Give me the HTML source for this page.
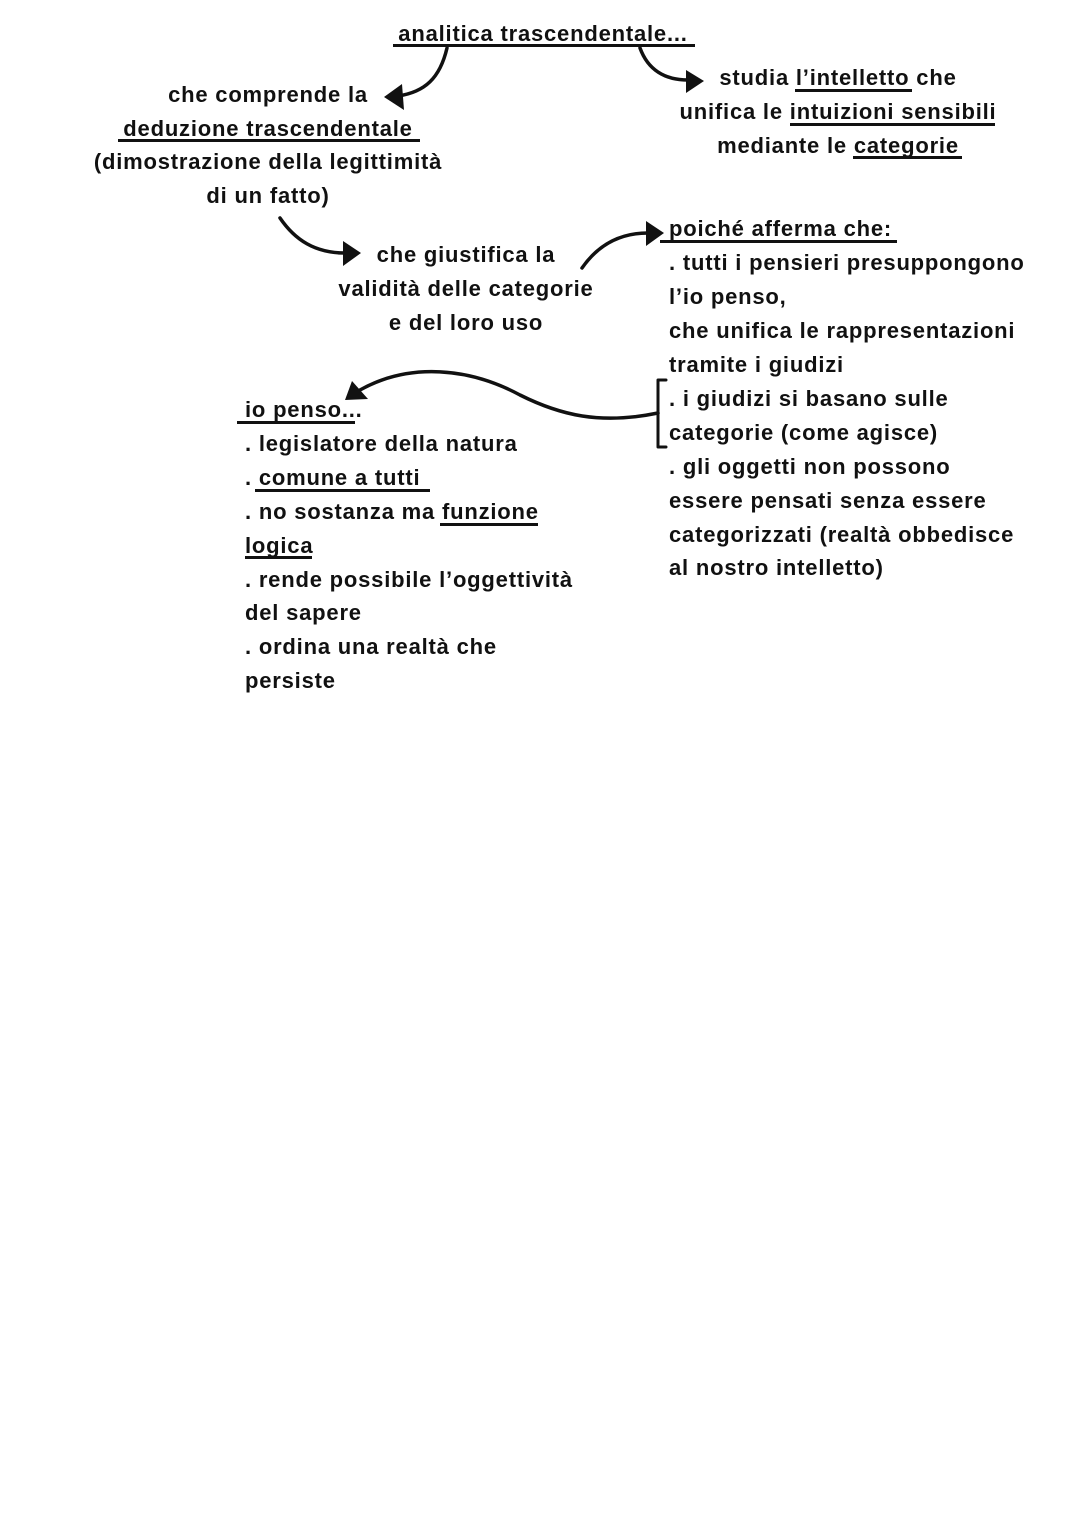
<!DOCTYPE html>
<html><head><meta charset="utf-8"><style>
html,body{margin:0;padding:0;background:#fff;}
body{width:1080px;height:1527px;position:relative;overflow:hidden;font-family:"Liberation Sans",sans-serif;font-weight:bold;font-size:22px;letter-spacing:0.8px;color:#111;}
.t{position:absolute;white-space:nowrap;line-height:26px;}
.c{transform:translateX(-50%);}
.u{position:absolute;height:3px;background:#111;}
svg{position:absolute;left:0;top:0;}
</style></head><body>
<div class="t c" style="left:543px;top:21px">analitica trascendentale...</div>
<div class="u" style="left:393px;top:44px;width:302px"></div>

<div class="t c" style="left:268px;top:82px">che comprende la</div>
<div class="t c" style="left:268px;top:116px">deduzione trascendentale</div>
<div class="u" style="left:118px;top:139px;width:302px"></div>
<div class="t c" style="left:268px;top:149px">(dimostrazione della legittimità</div>
<div class="t c" style="left:268px;top:183px">di un fatto)</div>

<div class="t c" style="left:838px;top:65px">studia l’intelletto che</div>
<div class="u" style="left:795px;top:89px;width:117px"></div>
<div class="t c" style="left:838px;top:99px">unifica le intuizioni sensibili</div>
<div class="u" style="left:790px;top:123px;width:205px"></div>
<div class="t c" style="left:838px;top:133px">mediante le categorie</div>
<div class="u" style="left:853px;top:156px;width:109px"></div>

<div class="t c" style="left:466px;top:242px">che giustifica la</div>
<div class="t c" style="left:466px;top:276px">validità delle categorie</div>
<div class="t c" style="left:466px;top:310px">e del loro uso</div>

<div class="t" style="left:669px;top:216px">poiché afferma che:</div>
<div class="u" style="left:660px;top:240px;width:237px"></div>
<div class="t" style="left:669px;top:250px">. tutti i pensieri presuppongono</div>
<div class="t" style="left:669px;top:284px">l’io penso,</div>
<div class="t" style="left:669px;top:318px">che unifica le rappresentazioni</div>
<div class="t" style="left:669px;top:352px">tramite i giudizi</div>
<div class="t" style="left:669px;top:386px">. i giudizi si basano sulle</div>
<div class="t" style="left:669px;top:420px">categorie (come agisce)</div>
<div class="t" style="left:669px;top:454px">. gli oggetti non possono</div>
<div class="t" style="left:669px;top:488px">essere pensati senza essere</div>
<div class="t" style="left:669px;top:522px">categorizzati (realtà obbedisce</div>
<div class="t" style="left:669px;top:555px">al nostro intelletto)</div>

<div class="t" style="left:245px;top:397px">io penso...</div>
<div class="u" style="left:237px;top:421px;width:118px"></div>
<div class="t" style="left:245px;top:431px">. legislatore della natura</div>
<div class="t" style="left:245px;top:465px">. comune a tutti</div>
<div class="u" style="left:255px;top:489px;width:175px"></div>
<div class="t" style="left:245px;top:499px">. no sostanza ma funzione</div>
<div class="u" style="left:440px;top:523px;width:98px"></div>
<div class="t" style="left:245px;top:533px">logica</div>
<div class="u" style="left:245px;top:556px;width:67px"></div>
<div class="t" style="left:245px;top:567px">. rende possibile l’oggettività</div>
<div class="t" style="left:245px;top:600px">del sapere</div>
<div class="t" style="left:245px;top:634px">. ordina una realtà che</div>
<div class="t" style="left:245px;top:668px">persiste</div>

<svg width="1080" height="1527" viewBox="0 0 1080 1527">
<g fill="none" stroke="#111" stroke-width="3.5" stroke-linecap="round">
<path d="M447 48 C440 78 425 92 398 96"/>
<path d="M640 48 C648 70 665 80 688 80"/>
<path d="M280 218 C295 240 315 253 345 253"/>
<path d="M582 268 C598 245 620 233 648 233"/>
<path d="M658 413 C600 425 560 415 520 395 C470 368 410 362 360 390"/>
<path d="M658 380 L658 447 M658 380 L666 380 M658 447 L666 447" stroke-width="3"/>
</g>
<g fill="#111">
<polygon points="384,97 402,84 404,110"/>
<polygon points="704,81 686,70 686,93"/>
<polygon points="361,253 343,241 343,266"/>
<polygon points="664,233 646,221 646,246"/>
<polygon points="345,400 352,381 368,399"/>
</g>
</svg>
</body></html>
